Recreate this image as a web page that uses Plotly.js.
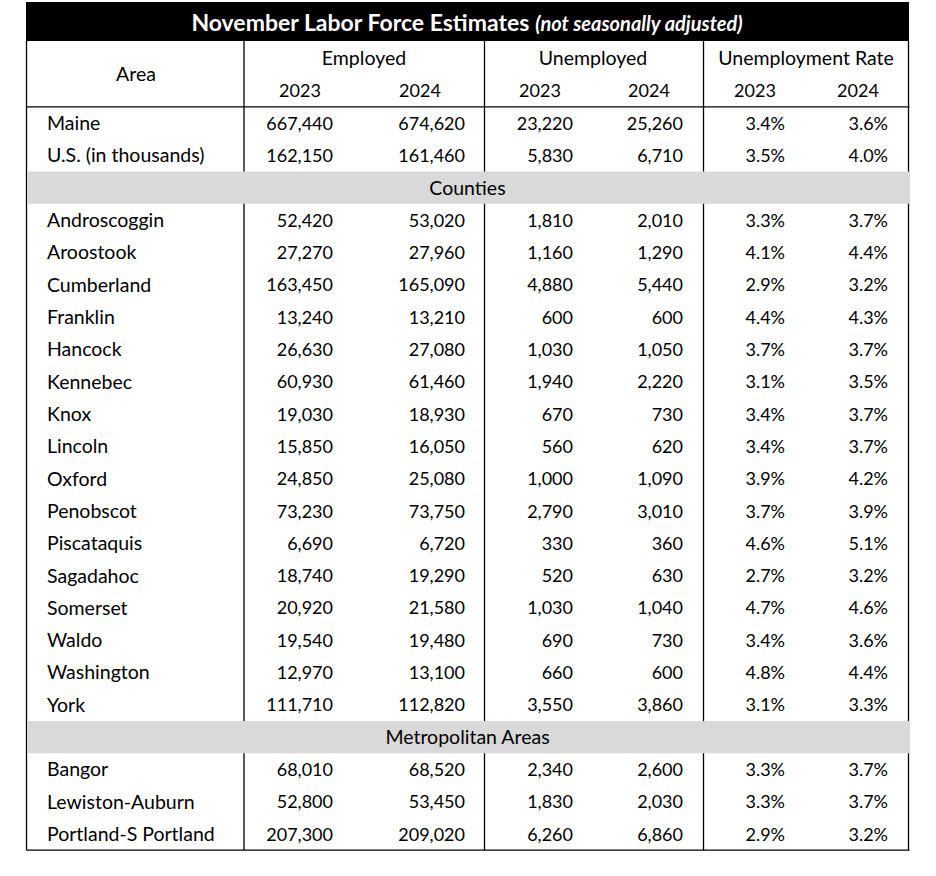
<!DOCTYPE html>
<html>
<head>
<meta charset="utf-8">
<script src="https://cdn.plot.ly/plotly-3.0.1.min.js"></script>
<style>
  body { margin: 0; background: #fff; }
  #labor-table { width: 936px; height: 876px; }
</style>
</head>
<body>
<div id="labor-table"></div>
<script>
// November labor force estimates, Maine (not seasonally adjusted)
var areas = ['Maine', 'U.S. (in thousands)',
    'Androscoggin', 'Aroostook', 'Cumberland', 'Franklin', 'Hancock', 'Kennebec',
    'Knox', 'Lincoln', 'Oxford', 'Penobscot', 'Piscataquis', 'Sagadahoc',
    'Somerset', 'Waldo', 'Washington', 'York',
    'Bangor', 'Lewiston-Auburn', 'Portland-S Portland'];

var employed2023 = [667440, 162150,
    52420, 27270, 163450, 13240, 26630, 60930, 19030, 15850, 24850, 73230,
    6690, 18740, 20920, 19540, 12970, 111710,
    68010, 52800, 207300];
var employed2024 = [674620, 161460,
    53020, 27960, 165090, 13210, 27080, 61460, 18930, 16050, 25080, 73750,
    6720, 19290, 21580, 19480, 13100, 112820,
    68520, 53450, 209020];
var unemployed2023 = [23220, 5830,
    1810, 1160, 4880, 600, 1030, 1940, 670, 560, 1000, 2790,
    330, 520, 1030, 690, 660, 3550,
    2340, 1830, 6260];
var unemployed2024 = [25260, 6710,
    2010, 1290, 5440, 600, 1050, 2220, 730, 620, 1090, 3010,
    360, 630, 1040, 730, 600, 3860,
    2600, 2030, 6860];
var rate2023 = [3.4, 3.5,
    3.3, 4.1, 2.9, 4.4, 3.7, 3.1, 3.4, 3.4, 3.9, 3.7,
    4.6, 2.7, 4.7, 3.4, 4.8, 3.1,
    3.3, 3.3, 2.9];
var rate2024 = [3.6, 4.0,
    3.7, 4.4, 3.2, 4.3, 3.7, 3.5, 3.7, 3.7, 4.2, 3.9,
    5.1, 3.2, 4.6, 3.6, 4.4, 3.3,
    3.7, 3.7, 3.2];

// section bands go in front of these data rows
var sections = ['Counties', 'Metropolitan Areas'];
var sectionStarts = [2, 18];

var groups = ['Employed', 'Unemployed', 'Unemployment Rate'];
var years = ['2023', '2024'];

// ---- layout of the grid (pixels, axes are 1:1 with the page) ----
var W = 936, H = 876;
var FONT = 'Lato, "Open Sans", sans-serif';
var left = 26.5, right = 908.5;
var dividers = [244, 484.5, 703.5];
var titleTop = 2, headTop = 41, bodyTop = 106.8, rowH = 32.32;
var textShift = 2.2;   // nudge text down so it sits like the original
var nameX = 47;
var colRight = [333, 465, 573, 683, 785, 888];
var groupMid = [364, 593, 806];
var yearMid = [300, 420, 540, 649, 755, 858];

function rowOf(k) {
    var r = k;
    sectionStarts.forEach(function (s) { if (k >= s) r++; });
    return r;
}
function rowY(r) { return bodyTop + rowH * (r + 0.5) + textShift; }
var nRows = areas.length + sections.length;
var bodyBottom = bodyTop + rowH * nRows;

var fmt = function (v) { return v.toLocaleString('en-US'); };
var pct = function (v) { return v.toFixed(1) + '%'; };

var ys = areas.map(function (a, k) { return rowY(rowOf(k)); });
var numFont = { family: FONT, size: 18, color: '#000' };
var lblFont = { family: FONT, size: 19.5, color: '#000' };

function textTrace(x, y, text, pos, font) {
    return {
        x: x, y: y, text: text, type: 'scatter', mode: 'text',
        textposition: pos, textfont: font || numFont,
        hoverinfo: 'skip', showlegend: false, cliponaxis: false
    };
}

var columns = [employed2023.map(fmt), employed2024.map(fmt),
    unemployed2023.map(fmt), unemployed2024.map(fmt),
    rate2023.map(pct), rate2024.map(pct)];

var data = [textTrace(areas.map(function () { return nameX; }), ys, areas, 'middle right', lblFont)];
columns.forEach(function (col, c) {
    data.push(textTrace(col.map(function () { return colRight[c]; }), ys, col, 'middle left'));
});

// header texts
data.push(textTrace([136], [74 + textShift], ['Area'], 'middle center', lblFont));
data.push(textTrace(groupMid, groupMid.map(function () { return 58 + textShift; }), groups,
    'middle center', lblFont));
data.push(textTrace(yearMid, yearMid.map(function () { return 90 + textShift; }),
    yearMid.map(function (m, i) { return years[i % 2]; }), 'middle center'));

// section labels
var midX = (left + right) / 2;
data.push(textTrace(sections.map(function () { return midX; }),
    sectionStarts.map(function (s, i) { return rowY(s + i); }), sections, 'middle center', lblFont));

// ---- shapes ----
var shapes = [];
function line(x0, y0, x1, y1) {
    shapes.push({ type: 'line', xref: 'x', yref: 'y', x0: x0, y0: y0, x1: x1, y1: y1,
        line: { color: '#000', width: 1.3 }, layer: 'below' });
}
line(left, headTop, left, bodyBottom);
line(right, headTop, right, bodyBottom);
dividers.forEach(function (d) { line(d, headTop, d, bodyBottom); });
line(left, bodyTop, right + 1, bodyTop);
line(left, bodyBottom, right + 1, bodyBottom);

sectionStarts.forEach(function (s, i) {
    var r = s + i;
    shapes.push({ type: 'rect', xref: 'x', yref: 'y', x0: left + 1, x1: right + 0.5,
        y0: bodyTop + rowH * r, y1: bodyTop + rowH * (r + 1),
        fillcolor: '#d9d9d9', line: { width: 0 }, layer: 'below' });
});
shapes.push({ type: 'rect', xref: 'x', yref: 'y', x0: left - 0.5, x1: right + 0.5,
    y0: titleTop, y1: headTop, fillcolor: '#000', line: { width: 0 }, layer: 'below' });

var layout = {
    width: W, height: H,
    margin: { l: 0, r: 0, t: 0, b: 0 },
    paper_bgcolor: '#fff', plot_bgcolor: '#fff',
    xaxis: { range: [0, W], visible: false, fixedrange: true },
    yaxis: { range: [H, 0], visible: false, fixedrange: true },
    title: {
        text: '<b>November Labor Force Estimates</b> ' +
            '<b><i><span style="font-size:20px">(not seasonally adjusted)</span></i></b>',
        font: { family: FONT, size: 23, color: '#fff' },
        x: 467 / W, xanchor: 'center', xref: 'paper',
        y: 1 - 23 / H, yanchor: 'middle', yref: 'container'
    },
    shapes: shapes,
    showlegend: false
};

Plotly.newPlot('labor-table', data, layout, { displayModeBar: false, staticPlot: true });
</script>
</body>
</html>
